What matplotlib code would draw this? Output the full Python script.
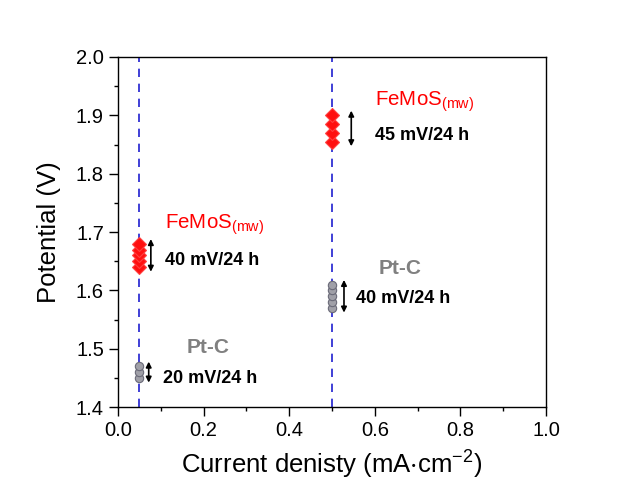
import matplotlib
matplotlib.use("Agg")
import matplotlib.pyplot as plt
from matplotlib.ticker import MultipleLocator

plt.rcParams['font.family'] = ['Liberation Sans', 'DejaVu Sans']
plt.rcParams['mathtext.default'] = 'regular'

# Stability data: potential readings over 24 h at each current density
x_low, x_high = 0.05, 0.5
femos_low = [1.64, 1.65, 1.66, 1.67, 1.68]
ptc_low = [1.45, 1.46, 1.47]
femos_high = [1.855, 1.87, 1.885, 1.90]
ptc_high = [1.57, 1.58, 1.59, 1.60, 1.61]

fig = plt.figure(figsize=(6.27, 4.87), dpi=100)
ax = fig.add_axes([0.188, 0.164, 0.683, 0.719])

for xv in (x_low, x_high):
    ax.axvline(xv, color='#1f1fd0', ls=(0, (5, 4)), lw=1.2, zorder=1)

def marks(xv, ys, kind):
    xs = [xv] * len(ys)
    if kind == 'femos':
        ax.plot(xs, ys, ls='none', marker='D', ms=7, mfc='#ff1010',
                mec='#ff4040', mew=0.8, zorder=3)
    else:
        ax.plot(xs, ys, ls='none', marker='o', ms=6, mfc='#a0a0a8',
                mec='#6a6a78', mew=0.8, zorder=3)

marks(x_low, femos_low, 'femos')
marks(x_low, ptc_low, 'ptc')
marks(x_high, femos_high, 'femos')
marks(x_high, ptc_high, 'ptc')

def span_arrow(xa, ys):
    ax.annotate('', xy=(xa, min(ys) - 0.008), xytext=(xa, max(ys) + 0.008),
                arrowprops=dict(arrowstyle='<|-|>', color='black', lw=1.2,
                                mutation_scale=8, shrinkA=0, shrinkB=0))

span_arrow(0.077, femos_low)
span_arrow(0.072, ptc_low)
span_arrow(0.545, femos_high)
span_arrow(0.528, ptc_high)

bold = dict(fontsize=13, fontweight='bold', va='center', ha='left')
ax.text(0.11, 1.652, '40 mV/24 h', **bold)
ax.text(0.105, 1.449, '20 mV/24 h', **bold)
ax.text(0.60, 1.866, '45 mV/24 h', **bold)
ax.text(0.555, 1.587, '40 mV/24 h', **bold)

ax.text(0.11, 1.712, 'FeMoS$_{(mw)}$', color='#ff0000', fontsize=14.8,
        va='center', ha='left')
ax.text(0.60, 1.924, 'FeMoS$_{(mw)}$', color='#ff0000', fontsize=14.8,
        va='center', ha='left')
ax.text(0.16, 1.503, 'Pt-C', color='#808080', fontsize=15,
        fontweight='bold', va='center', ha='left')
ax.text(0.61, 1.638, 'Pt-C', color='#808080', fontsize=15,
        fontweight='bold', va='center', ha='left')

ax.set_xlim(0.0, 1.0)
ax.set_ylim(1.4, 2.0)
ax.xaxis.set_major_locator(MultipleLocator(0.2))
ax.xaxis.set_minor_locator(MultipleLocator(0.1))
ax.yaxis.set_major_locator(MultipleLocator(0.1))
ax.yaxis.set_minor_locator(MultipleLocator(0.05))
ax.tick_params(which='major', direction='out', length=6.5, width=1,
               labelsize=14.5, top=False, right=False)
ax.tick_params(which='minor', direction='out', length=3, width=1,
               top=False, right=False)
ax.xaxis.set_major_formatter(plt.FuncFormatter(lambda v, p: f'{v:.1f}'))
ax.yaxis.set_major_formatter(plt.FuncFormatter(lambda v, p: f'{v:.1f}'))
for s in ax.spines.values():
    s.set_linewidth(1.0)

ax.set_xlabel('Current denisty (mA$\\cdot$cm$^{\\mathregular{-2}}$)', fontsize=18.5, labelpad=6)
ax.set_ylabel('Potential (V)', fontsize=18.5, labelpad=11)

fig.savefig('out.png', dpi=100, facecolor='white')
